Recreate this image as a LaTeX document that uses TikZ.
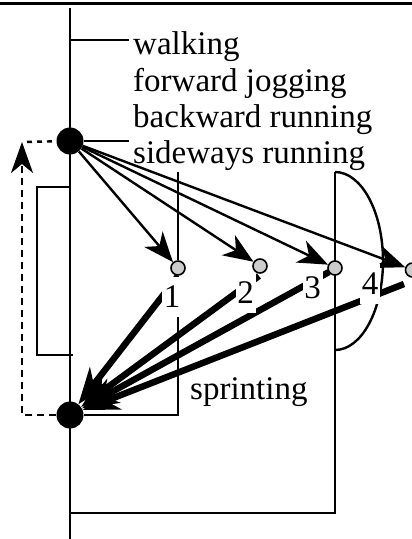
\documentclass[tikz,border=0pt]{standalone}
\usepackage{fontspec}
\setmainfont{Liberation Serif}
\usetikzlibrary{arrows.meta}
\pgfdeclarelayer{bg}
\pgfsetlayers{bg,main}
\begin{document}
\begin{tikzpicture}[x=1pt,y=-1pt,
  ln/.style={line width=2.4pt},
  bigdot/.style={circle,fill=black,minimum size=27pt,inner sep=0pt},
  pt/.style={circle,draw=black,fill=gray!40,line width=1.6pt,minimum size=14pt,inner sep=0pt},
  thinarrow/.style={line width=2.4pt,-{Stealth[length=30pt,width=24pt,inset=9pt]}},
  thickarrow/.style={line width=6.5pt,-{Stealth[length=36pt,width=27pt,inset=11pt]}},
  dasharrow/.style={line width=2.4pt,dash pattern=on 7pt off 5pt,-{Stealth[length=31pt,width=22pt,inset=9pt]}},
  dashln/.style={line width=2.4pt,dash pattern=on 5pt off 5pt,dash phase=-5pt},
  lbl/.style={font=\fontsize{33}{40}\selectfont,anchor=base west,inner sep=0pt},
  num/.style={font=\fontsize{33}{40}\selectfont,fill=white,inner sep=0pt,minimum width=20pt,minimum height=40pt},
]
\useasboundingbox (0,0) rectangle (412,539);

% big dots and points
\node[bigdot] (A) at (70,141) {};
\node[bigdot] (B) at (70,415) {};
\node[pt] (c1) at (178,268) {};
\node[pt] (c2) at (260,266) {};
\node[pt] (c3) at (335,268) {};
\node[pt] (c4) at (412.5,270) {};

% number labels (white boxes)
\node[num] (n1) at (172,297) {1};
\node[num] (n2) at (245.5,293) {2};
\node[num] (n3) at (312.5,287.5) {3};
\node[num] (n4) at (370,284) {4};

% texts
\node[lbl] (walk) at (133,54.5) {walking};
\node[lbl] (fjog) at (133,91) {forward jogging};
\node[lbl] (brun) at (133,127.5) {backward running};
\node[lbl] (srun) at (133,163) {sideways running};
\node[lbl] (sprint) at (190,399) {sprinting};

% coordinates
\coordinate (top0) at (0,3.3);
\coordinate (top1) at (412,3.3);
\coordinate (v0) at (70,8);
\coordinate (v1) at (70,539);
\coordinate (wk0) at (70,40);
\coordinate (wk1) at (129,40);
\coordinate (sw1) at (129,141);
\coordinate (r0) at (70,187);
\coordinate (r1) at (37,187);
\coordinate (r2) at (37,355);
\coordinate (r3) at (73,355);
\coordinate (b1top) at (178,172);
\coordinate (b3top) at (335,172);
\coordinate (b3bot) at (335,513);
\coordinate (b3end) at (70,513);
\coordinate (dc) at (22,142);
\coordinate (s1) at (178,276);
\coordinate (s2) at (259,276);
\coordinate (s3) at (329,272);
\coordinate (s4) at (404,284);

\begin{pgfonlayer}{bg}
  \draw[line width=3.3pt] (top0) -- (top1);
  \draw[ln] (v0) -- (v1);
  \draw[ln] (wk0) -- (wk1);
  \draw[ln] (A) -- (sw1);
  \draw[ln] (r0) -- (r1) -- (r2) -- (r3);
  \draw[ln] (b1top) -- (c1);
  \draw[ln] (c1) |- (B);
  \draw[ln] (b3top) -- (b3bot) -- (b3end);
  \draw[ln] (b3top) arc[start angle=-90,end angle=90,x radius=48,y radius=89];
  % thick arrows to B
  \draw[thickarrow] (s1) -- (B);
  \draw[thickarrow] (s2) -- (B);
  \draw[thickarrow] (s3) -- (B);
  \draw[thickarrow] (s4) -- (B);
  % thin arrows from A
  \draw[thinarrow] (A) -- (c1);
  \draw[thinarrow] (A) -- (c2);
  \draw[thinarrow] (A) -- (c3);
  \draw[thinarrow] (A) -- (c4);
  % dashed return
  \draw[dasharrow] (B) -| (dc);
  \draw[dashln] (dc) -- (A);
\end{pgfonlayer}
\end{tikzpicture}
\end{document}
